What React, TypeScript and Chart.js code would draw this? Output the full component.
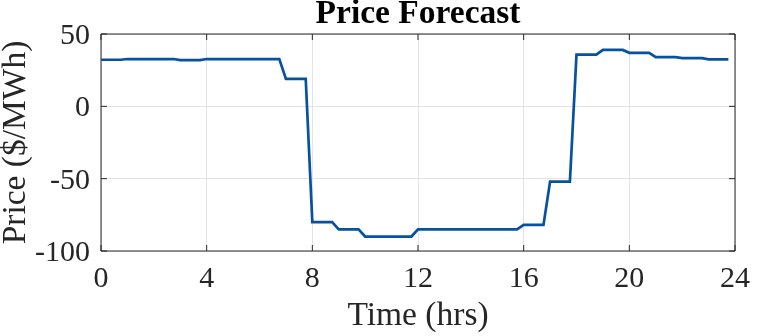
import React, { useEffect, useRef } from "react";
import { Chart, registerables } from "chart.js";

Chart.register(...registerables);

// Hourly price forecast ($/MWh), each hour held over its four quarter-hour samples
const hours: number[] = [
  0, 1, 2, 3, 4, 5, 6, 7, 8, 9, 10, 11, 12, 13, 14, 15, 16, 17, 18, 19, 20, 21, 22, 23,
];
const hourlyPrice: number[] = [
  32.2, 32.7, 32.7, 32.0, 32.7, 32.7, 32.7, 19.0, -80.0, -85.0, -90.0, -90.0,
  -85.0, -85.0, -85.0, -85.0, -82.0, -52.0, 35.7, 39.0, 37.0, 34.0, 33.3, 32.5,
];
const lastSampleOffset = 0.75; // last 15-min sample within each hour

const xTickValues: number[] = [0, 4, 8, 12, 16, 20, 24];
const yTickValues: number[] = [-100, -50, 0, 50];

const titleText = "Price Forecast";
const xAxisTitle = "Time (hrs)";
const yAxisTitle = "Price ($/MWh)";

const FONT = "'Liberation Serif', 'Times New Roman', serif";
const AXIS_COLOR = "#262626";

const boxPlugin = {
  id: "matlabBox",
  beforeDatasetsDraw(chart: any) {
    const { ctx, chartArea } = chart;
    const { left, right, top, bottom } = chartArea;
    const xs = chart.scales.x;
    const ys = chart.scales.y;
    const tl = 6;
    ctx.save();
    ctx.strokeStyle = AXIS_COLOR;
    ctx.lineWidth = 1;
    ctx.beginPath();
    ctx.rect(left, top, right - left, bottom - top);
    ctx.stroke();
    ctx.beginPath();
    for (const v of xTickValues) {
      const px = xs.getPixelForValue(v);
      ctx.moveTo(px, bottom);
      ctx.lineTo(px, bottom - tl);
      ctx.moveTo(px, top);
      ctx.lineTo(px, top + tl);
    }
    for (const v of yTickValues) {
      const py = ys.getPixelForValue(v);
      ctx.moveTo(left, py);
      ctx.lineTo(left + tl, py);
      ctx.moveTo(right, py);
      ctx.lineTo(right - tl, py);
    }
    ctx.stroke();
    ctx.restore();
  },
  afterDraw(chart: any) {
    const { ctx, chartArea } = chart;
    ctx.save();
    ctx.fillStyle = "#000000";
    ctx.font = `bold 33.5px ${FONT}`;
    ctx.textAlign = "center";
    ctx.textBaseline = "alphabetic";
    ctx.fillText(titleText, (chartArea.left + chartArea.right) / 2, 23);
    ctx.restore();
  },
};

export default function App() {
  const canvasRef = useRef<HTMLCanvasElement | null>(null);

  useEffect(() => {
    document.body.style.margin = "0";
    const canvas = canvasRef.current;
    if (!canvas) return;

    const points: { x: number; y: number }[] = [];
    hours.forEach((h, i) => {
      points.push({ x: h, y: hourlyPrice[i] });
      points.push({ x: h + lastSampleOffset, y: hourlyPrice[i] });
    });

    const chart = new Chart(canvas, {
      type: "line",
      data: {
        datasets: [
          {
            data: points,
            borderColor: "#0652a0",
            borderWidth: 2.7,
            pointRadius: 0,
            tension: 0,
            fill: false,
          },
        ],
      },
      options: {
        animation: false,
        responsive: true,
        maintainAspectRatio: false,
        layout: { padding: { left: 0, right: 17, top: 34, bottom: 0 } },
        plugins: {
          legend: { display: false },
          tooltip: { enabled: false },
          title: { display: false },
        },
        scales: {
          x: {
            type: "linear",
            min: 0,
            max: 24,
            afterBuildTicks: (scale: any) => {
              scale.ticks = xTickValues.map((v) => ({ value: v }));
            },
            afterFit: (scale: any) => {
              scale.height = 85;
            },
            ticks: {
              color: AXIS_COLOR,
              font: { family: FONT, size: 30, lineHeight: 1 },
              padding: 13,
              maxRotation: 0,
              autoSkip: false,
            },
            grid: { color: "#e3e3e3", drawTicks: false, lineWidth: 1 },
            border: { display: false },
            title: {
              display: true,
              text: xAxisTitle,
              color: AXIS_COLOR,
              font: { family: FONT, size: 33.5, lineHeight: 1 },
              padding: { top: 0, bottom: 3 },
            },
          },
          y: {
            type: "linear",
            min: -100,
            max: 50,
            afterBuildTicks: (scale: any) => {
              scale.ticks = yTickValues.map((v) => ({ value: v }));
            },
            afterFit: (scale: any) => {
              scale.width = 101;
            },
            ticks: {
              color: AXIS_COLOR,
              font: { family: FONT, size: 30, lineHeight: 4 / 30 },
              padding: 11,
              autoSkip: false,
              // empty first line nudges each label ~2px below its tick, as in the reference
              callback: (v: any) => ["", String(v)],
            },
            grid: { color: "#e3e3e3", drawTicks: false, lineWidth: 1 },
            border: { display: false },
            title: {
              display: true,
              text: yAxisTitle,
              color: AXIS_COLOR,
              font: { family: FONT, size: 33.5, lineHeight: 0.8 },
              padding: { top: 2.5, bottom: 0 },
            },
          },
        },
      },
      plugins: [boxPlugin],
    });

    return () => {
      chart.destroy();
    };
  }, []);

  return (
    <div style={{ width: "763px", height: "336px", position: "relative" }}>
      <canvas ref={canvasRef} />
    </div>
  );
}
